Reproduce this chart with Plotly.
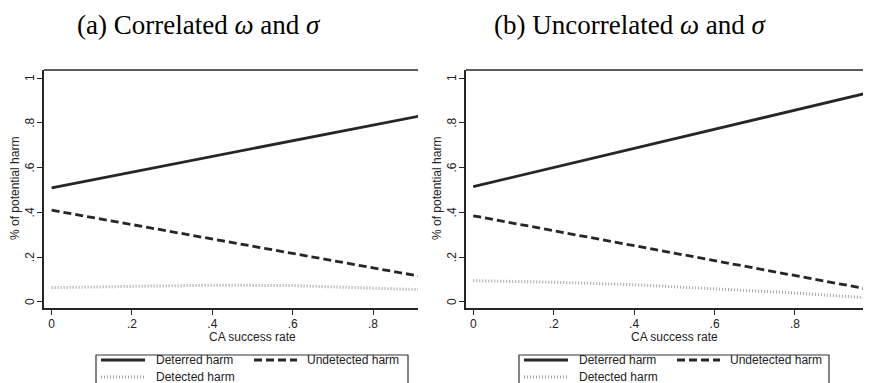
import plotly.graph_objects as go

# page body has an 8px margin; figure sized so it fits the 871x383 window
OFF = 8
W, H = 871 - OFF, 383 - OFF

# ---------------- data ----------------
ca_rate = [0.0, 0.2, 0.4, 0.6, 0.8, 1.0]

a_deterred = [0.510, 0.580, 0.650, 0.720, 0.790, 0.860]
a_undetected = [0.410, 0.345, 0.281, 0.217, 0.152, 0.088]
a_detected = [0.064, 0.071, 0.075, 0.073, 0.064, 0.050]

b_deterred = [0.515, 0.600, 0.686, 0.771, 0.856, 0.942]
b_undetected = [0.385, 0.318, 0.251, 0.185, 0.118, 0.051]
b_detected = [0.095, 0.088, 0.077, 0.060, 0.040, 0.016]

panel_titles = ["(a) Correlated <i>ω</i> and <i>σ</i>", "(b) Uncorrelated <i>ω</i> and <i>σ</i>"]
series_names = ["Deterred harm", "Undetected harm", "Detected harm"]
x_ticks = [0, 0.2, 0.4, 0.6, 0.8]
x_ticktext = ["0", ".2", ".4", ".6", ".8"]
y_ticks = [0, 0.2, 0.4, 0.6, 0.8, 1.0]
y_ticktext = ["0", ".2", ".4", ".6", ".8", "1"]
x_title = "CA success rate"
y_title = "% of potential harm"

# ---------------- styles ----------------
DARK = "#262626"
GRAY = "#a6a6a6"
styles = [
    dict(color=DARK, width=2.8, dash="solid"),
    dict(color=DARK, width=2.8, dash="8px,4px"),
    dict(color=GRAY, width=3, dash="1px,2px"),
]
SANS = "Liberation Sans, Arial, sans-serif"
SERIF = "Liberation Serif, Times New Roman, serif"

def px(x):
    return (x - OFF) / W

def py(y):
    return 1 - (y - OFF) / H

fig = go.Figure()

panels = [
    dict(data=[a_deterred, a_undetected, a_detected], xa="x", ya="y"),
    dict(data=[b_deterred, b_undetected, b_detected], xa="x2", ya="y2"),
]
for p in panels:
    for name, vals, st in zip(series_names, p["data"], styles):
        fig.add_trace(go.Scatter(x=ca_rate, y=vals, mode="lines", name=name,
                                 line=st, xaxis=p["xa"], yaxis=p["ya"],
                                 showlegend=False, hoverinfo="skip"))

ydom = [py(308), py(70)]
common_x = dict(tickvals=x_ticks, ticktext=x_ticktext, ticks="outside", ticklen=5,
                tickwidth=1.3, tickcolor=DARK, showline=True, linecolor=DARK,
                linewidth=1.5, showgrid=False, zeroline=False, ticklabelstandoff=-1,
                tickfont=dict(family=SANS, size=12, color="#222"), automargin=False)
common_y = dict(tickvals=y_ticks, ticks="outside", ticklen=5,
                tickwidth=1.3, tickcolor=DARK, showline=True, linecolor=DARK,
                linewidth=1.5, showgrid=False, zeroline=False, showticklabels=False,
                range=[-0.027, 1.036], domain=ydom, automargin=False)

fig.update_layout(
    width=W, height=H, margin=dict(l=0, r=0, t=0, b=0),
    paper_bgcolor="white", plot_bgcolor="white", showlegend=False,
    xaxis=dict(domain=[px(44), px(418)], range=[-0.019, 0.912], anchor="y", **common_x),
    yaxis=dict(anchor="x", **common_y),
    xaxis2=dict(domain=[px(466), 1.0], range=[-0.018, 0.989], anchor="y2", **common_x),
    yaxis2=dict(anchor="x2", **common_y),
)

shapes = []
annotations = []
# top frame lines
for xr, yr in [("x domain", "y domain"), ("x2 domain", "y2 domain")]:
    shapes.append(dict(type="line", xref=xr, yref=yr, x0=0, x1=1, y0=1, y1=1,
                       line=dict(color=DARK, width=1.5)))

# panel titles, y tick labels (rotated, Stata-style) and axis titles
title_cx = [199, 630]
xtitle_cx = [252, 674]
ytitle_x = [15, 437]
ytick_x = [30, 452]
yrefs = ["y", "y2"]
for i in range(2):
    annotations.append(dict(text=panel_titles[i], x=px(title_cx[i]), y=py(25),
                            xref="paper", yref="paper", xanchor="center", yanchor="middle",
                            showarrow=False, font=dict(family=SERIF, size=27, color="black")))
    annotations.append(dict(text=x_title, x=px(xtitle_cx[i]), y=py(337),
                            xref="paper", yref="paper", xanchor="center", yanchor="middle",
                            showarrow=False, font=dict(family=SANS, size=12, color="#222")))
    annotations.append(dict(text=y_title, x=px(ytitle_x[i]), y=py(189), textangle=-90,
                            xref="paper", yref="paper", xanchor="center", yanchor="middle",
                            showarrow=False, font=dict(family=SANS, size=12, color="#222")))
    for v, t in zip(y_ticks, y_ticktext):
        annotations.append(dict(text=t, x=px(ytick_x[i]), y=v, textangle=-90,
                                xref="paper", yref=yrefs[i], xanchor="center", yanchor="middle",
                                showarrow=False, font=dict(family=SANS, size=12, color="#222")))

# legends (drawn manually, Stata-like)
legends = [
    dict(box=(96, 408), s1=(101, 145), t1=154, s2=(254, 297), t2=305),
    dict(box=(519, 829), s1=(524, 568), t1=577, s2=(677, 720), t2=728),
]
row_y = [360, 377]
for lg in legends:
    shapes.append(dict(type="rect", xref="paper", yref="paper",
                       x0=px(lg["box"][0]), x1=px(lg["box"][1]), y0=py(395), y1=py(355),
                       line=dict(color="#333", width=1.2), fillcolor="white", layer="above"))
    entries = [(lg["s1"], lg["t1"], row_y[0], 0), (lg["s2"], lg["t2"], row_y[0], 1),
               (lg["s1"], lg["t1"], row_y[1], 2)]
    for (sx0, sx1), tx, ry, k in entries:
        st = styles[k]
        shapes.append(dict(type="line", xref="paper", yref="paper",
                           x0=px(sx0), x1=px(sx1), y0=py(ry), y1=py(ry), layer="above",
                           line=dict(color=st["color"], width=st["width"], dash=st["dash"])))
        annotations.append(dict(text=series_names[k], x=px(tx), y=py(ry),
                                xref="paper", yref="paper", xanchor="left", yanchor="middle",
                                showarrow=False, font=dict(family=SANS, size=12, color="#222")))

fig.update_layout(shapes=shapes, annotations=annotations)
fig.write_html("out.html")
